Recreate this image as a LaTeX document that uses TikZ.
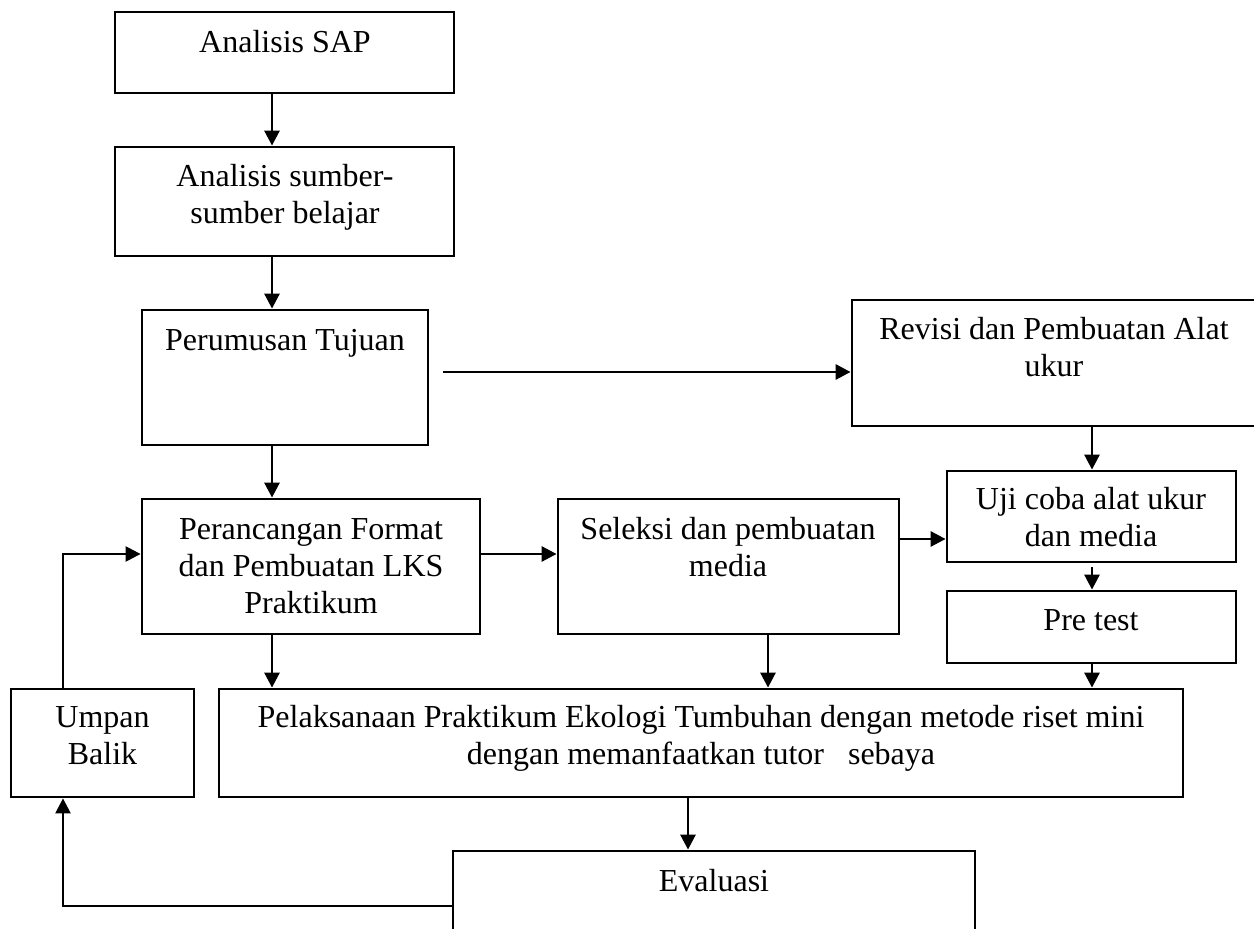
\documentclass[tikz,border=0pt]{standalone}
\usepackage{fontspec}
\setmainfont{Liberation Serif}
\usetikzlibrary{arrows.meta}
\tikzset{
  box/.style={draw, line width=1.4pt, inner sep=0pt, fill=white},
  txt/.style={align=center, inner sep=0pt, anchor=base, font=\fontsize{16}{18.5}\selectfont},
  tip/.style={-{Triangle[length=7.5pt,width=7.5pt]}},
  arr/.style={line width=1.4pt, tip},
  fb/.style={line width=1.2pt, tip},
}
\begin{document}
\begin{tikzpicture}[x=0.5pt,y=-0.5pt]
\useasboundingbox (0,0) rectangle (1254,929);
\clip (0,0) rectangle (1254,929);
\fill[white] (0,0) rectangle (1254,929);
% boxes
\node[box, minimum width=169.5pt, minimum height=40.5pt] (sap) at (284.5,52.5) {};
\node[box, minimum width=169.5pt, minimum height=54.5pt] (sumber) at (284.5,201.5) {};
\node[box, minimum width=143pt, minimum height=67.5pt] (perum) at (285,377.5) {};
\node[box, minimum width=203pt, minimum height=63pt] (revisi) at (1055,363) {};
\node[box, minimum width=169pt, minimum height=67.5pt] (peranc) at (311,566.5) {};
\node[box, minimum width=170.5pt, minimum height=67.5pt] (seleksi) at (728.5,566.5) {};
\node[box, minimum width=144.5pt, minimum height=45.5pt] (uji) at (1091.5,516.5) {};
\node[box, minimum width=144.5pt, minimum height=36pt] (pre) at (1091.5,627) {};
\node[box, minimum width=91.5pt, minimum height=54pt] (umpan) at (102.5,743) {};
\node[box, minimum width=482pt, minimum height=54pt] (pelaks) at (701,743) {};
\node[box, minimum width=261pt, minimum height=54.5pt] (eval) at (714,905.5) {};
% texts (base anchor = baseline of the last line)
\node[txt] (tsap) at (285,53) {Analisis SAP};
\node[txt] (tsumber) at (285,224) {Analisis sumber-\\sumber belajar};
\node[txt] (tperum) at (285,351) {Perumusan Tujuan};
\node[txt] (trevisi) at (1054,377) {Revisi dan Pembuatan Alat\\ukur};
\node[txt] (tperanc) at (311,614) {Perancangan Format\\dan Pembuatan LKS\\Praktikum};
\node[txt] (tseleksi) at (728,577) {Seleksi dan pembuatan\\media};
\node[txt] (tuji) at (1091,547) {Uji coba alat ukur\\dan media};
\node[txt] (tpre) at (1091,631) {Pre test};
\node[txt] (tumpan) at (102.5,765) {Umpan\\Balik};
\node[txt] (tpelaks) at (701,765) {Pelaksanaan Praktikum Ekologi Tumbuhan dengan metode riset mini\\dengan memanfaatkan tutor\ \ \ sebaya};
\node[txt] (teval) at (714,892) {Evaluasi};
% helper coordinates
\coordinate (ax) at (272,0);
\coordinate (bx) at (1092,0);
\coordinate (cx) at (768,0);
\coordinate (dx) at (688,0);
\coordinate (fx) at (63,0);
\coordinate (yR) at (0,372);
\coordinate (yP) at (0,554);
\coordinate (yS) at (0,539);
\coordinate (yE) at (0,906);
\coordinate (pe) at ([xshift=7pt]perum.east);
\coordinate (us) at ([yshift=-2pt]uji.south);
% connectors
\draw[arr] (sap.south -| ax) -- (sumber.north -| ax);
\draw[arr] (sumber.south -| ax) -- (perum.north -| ax);
\draw[arr] (pe |- yR) -- (revisi.west |- yR);
\draw[arr] (revisi.south -| bx) -- (uji.north -| bx);
\draw[arr] (perum.south -| ax) -- (peranc.north -| ax);
\draw[arr] (peranc.east |- yP) -- (seleksi.west |- yP);
\draw[arr] (seleksi.east |- yS) -- (uji.west |- yS);
\draw[arr] (us -| bx) -- (pre.north -| bx);
\draw[arr] (pre.south -| bx) -- (pelaks.north -| bx);
\draw[arr] (peranc.south -| ax) -- (pelaks.north -| ax);
\draw[arr] (seleksi.south -| cx) -- (pelaks.north -| cx);
\draw[arr] (pelaks.south -| dx) -- (eval.north -| dx);
\draw[fb] (eval.west |- yE) -| (umpan.south -| fx);
\draw[fb] (umpan.north -| fx) |- (peranc.west |- yP);
\end{tikzpicture}
\end{document}
